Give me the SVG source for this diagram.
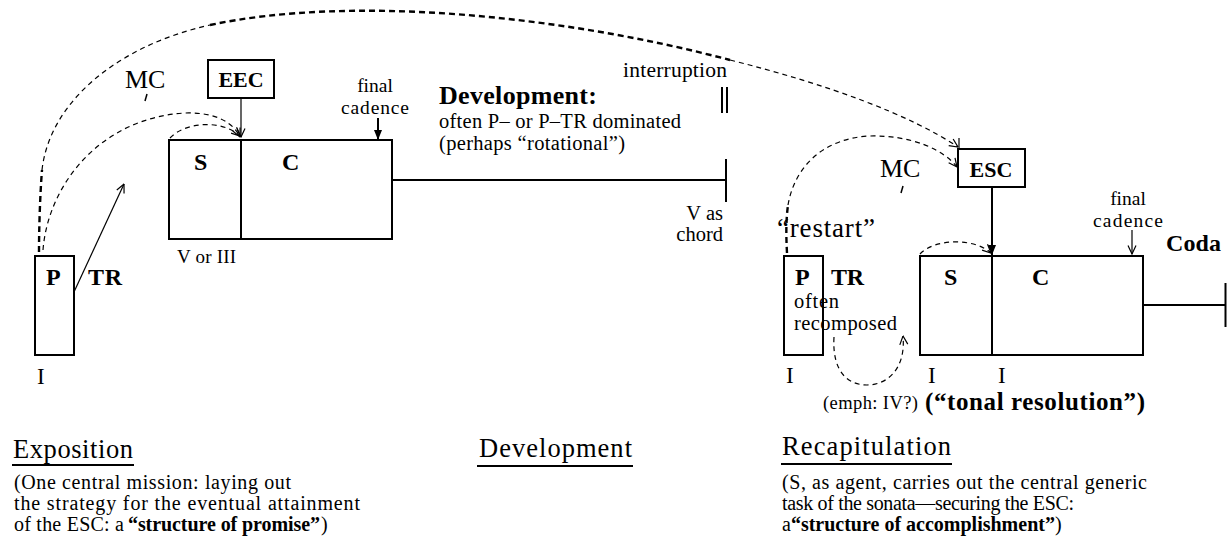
<svg xmlns="http://www.w3.org/2000/svg" width="1227" height="537" viewBox="0 0 1227 537">
<style>
.box{fill:none;stroke:#000;stroke-width:2}
.ln{fill:none;stroke:#000;stroke-width:2}
.thin{fill:none;stroke:#000;stroke-width:1.2}
.dash{fill:none;stroke:#000;stroke-width:1.2;stroke-dasharray:5 4}
.dashT{fill:none;stroke:#000;stroke-width:2.4;stroke-dasharray:6 4}
text{font-family:"Liberation Serif","Times New Roman",serif;fill:#000}
.b{font-weight:bold}
.body{font-size:20px}
.head{font-size:26.5px}
.lab{font-size:24px;font-weight:bold}
</style>
<defs>
<marker id="open" viewBox="0 0 10 10" refX="9.5" refY="5" markerWidth="10" markerHeight="10" markerUnits="userSpaceOnUse" orient="auto"><path d="M1,1 L9.5,5 L1,9" fill="none" stroke="#000" stroke-width="1.2"/></marker>
<marker id="solid" viewBox="0 0 10 10" refX="10" refY="5" markerWidth="10" markerHeight="10" markerUnits="userSpaceOnUse" orient="auto"><path d="M0,1 L10,5 L0,9 Z" fill="#000"/></marker>
</defs>
<rect width="1227" height="537" fill="#fff"/>

<g id="connectors">
  <path class="dashT" d="M39,252 C39,230 40,195 42,170"/>
  <path class="dash" d="M42,170 C50,100 120,45 210,25"/>
  <path class="dashT" d="M210,25 C350,-5 560,15 730,60"/>
  <path class="dash" d="M730,60 C830,85 910,115 958,147" marker-end="url(#open)"/>
  <line class="thin" x1="959" y1="138" x2="959" y2="149"/>
  <path class="dash" d="M43,250 C48,185 100,118 185,113 C218,112 234,124 240,137" marker-end="url(#open)"/>
  <path class="dash" d="M170,138 C185,122 222,119 240,136" marker-end="url(#open)"/>
  <line class="thin" x1="241" y1="98" x2="241" y2="137" marker-end="url(#open)"/>
  <line class="thin" x1="74" y1="292" x2="124" y2="184" marker-end="url(#open)"/>
  <line class="ln" x1="378" y1="118" x2="378" y2="140" marker-end="url(#solid)"/>
  <path class="dashT" d="M787,253 C786,235 786,220 788,205"/>
  <path class="dash" d="M788,205 C795,165 825,138 870,136 C912,135 944,150 957,167" marker-end="url(#open)"/>
  <line class="ln" x1="992" y1="187" x2="992" y2="255" marker-end="url(#solid)"/>
  <path class="dash" d="M920,254 C935,238 975,238 991,253" marker-end="url(#open)"/>
  <line class="thin" x1="1132" y1="230" x2="1132" y2="254" marker-end="url(#open)"/>
  <path class="dash" d="M834,337 C832,372 848,385 867,385 C888,385 906,368 903,336" marker-end="url(#open)"/>
</g>

<g id="exp-P">
  <rect class="box" x="35" y="256" width="39" height="99"/>
  <text class="lab" x="46" y="285">P</text>
  <text class="lab" x="88" y="285" textLength="34">TR</text>
  <text x="37" y="384" font-size="23">I</text>
</g>

<g id="MC-exp">
  <text x="125" y="88" font-size="26">MC</text>
  <line x1="147" y1="94" x2="145" y2="101" stroke="#000" stroke-width="1.5"/>
</g>

<g id="EEC">
  <rect class="box" x="208" y="60" width="66" height="38"/>
  <text class="b" x="241" y="87" font-size="22" text-anchor="middle">EEC</text>
</g>

<g id="exp-SC">
  <rect class="box" x="169" y="140" width="223" height="99"/>
  <line class="ln" x1="241" y1="140" x2="241" y2="239"/>
  <text class="lab" x="194" y="170">S</text>
  <text class="lab" x="282" y="170">C</text>
  <text x="177" y="263" font-size="19" textLength="59">V or III</text>
  <text x="375" y="92" font-size="19.5" text-anchor="middle">final</text>
  <text x="375" y="114" font-size="19.5" text-anchor="middle" textLength="68">cadence</text>
</g>

<g id="development-line">
  <line class="ln" x1="392" y1="180" x2="727" y2="180"/>
  <line class="ln" x1="726" y1="159" x2="726" y2="202"/>
  <line class="ln" x1="722" y1="87" x2="722" y2="113"/>
  <line class="ln" x1="727" y1="87" x2="727" y2="113"/>
  <text x="727" y="77" font-size="21.5" text-anchor="end" textLength="104">interruption</text>
  <text x="723" y="220" font-size="20.5" text-anchor="end">V as</text>
  <text x="723" y="241" font-size="20.5" text-anchor="end">chord</text>
  <text class="b" x="439" y="104" font-size="26" textLength="158">Development:</text>
  <text x="439" y="128" font-size="20.5" textLength="242">often P– or P–TR dominated</text>
  <text x="439" y="150" font-size="20.5" textLength="186">(perhaps “rotational”)</text>
</g>

<g id="rec-P">
  <rect class="box" x="784" y="256" width="39" height="99"/>
  <text class="lab" x="795" y="285">P</text>
  <text class="lab" x="831" y="285" textLength="33">TR</text>
  <text x="794" y="308" font-size="20.5" textLength="45">often</text>
  <text x="794" y="330" font-size="20.5" textLength="103">recomposed</text>
  <text x="786" y="383" font-size="23">I</text>
  <text x="777" y="237" font-size="27" textLength="98">“restart”</text>
</g>

<g id="MC-rec">
  <text x="880" y="177" font-size="26">MC</text>
  <line x1="903" y1="186" x2="901" y2="193" stroke="#000" stroke-width="1.5"/>
</g>

<g id="ESC">
  <rect class="box" x="958" y="149" width="67" height="38"/>
  <text class="b" x="991" y="177" font-size="22" text-anchor="middle">ESC</text>
</g>

<g id="rec-SC">
  <rect class="box" x="920" y="256" width="223" height="99"/>
  <line class="ln" x1="992" y1="256" x2="992" y2="355"/>
  <text class="lab" x="944" y="285">S</text>
  <text class="lab" x="1032" y="285">C</text>
  <text x="928" y="383" font-size="23">I</text>
  <text x="998" y="383" font-size="23">I</text>
  <text x="1128" y="205" font-size="19.5" text-anchor="middle">final</text>
  <text x="1128" y="227" font-size="19.5" text-anchor="middle" textLength="70">cadence</text>
  <text x="823" y="409" font-size="18.5" textLength="95">(emph: IV?)</text>
  <text class="b" x="925" y="410" font-size="25" textLength="220">(“tonal resolution”)</text>
</g>

<g id="coda">
  <text class="b" x="1166" y="251" font-size="24" textLength="55">Coda</text>
  <line class="ln" x1="1143" y1="305" x2="1226" y2="305"/>
  <line class="ln" x1="1225.5" y1="283" x2="1225.5" y2="327"/>
</g>

<g id="exposition-caption">
  <text class="head" x="13" y="458" textLength="120">Exposition</text>
  <line class="ln" x1="12" y1="465" x2="134" y2="465"/>
  <text class="body" x="14" y="489" textLength="277">(One central mission: laying out</text>
  <text class="body" x="14" y="510" textLength="346">the strategy for the eventual attainment</text>
  <text class="body" x="14" y="531" textLength="110">of the ESC: a</text>
  <text class="body b" x="128" y="531" textLength="192">“structure of promise”</text>
  <text class="body" x="321" y="531">)</text>
</g>

<g id="development-caption">
  <text class="head" x="479" y="457" textLength="153">Development</text>
  <line class="ln" x1="477" y1="466" x2="633" y2="466"/>
</g>

<g id="recapitulation-caption">
  <text class="head" x="782" y="455" textLength="169">Recapitulation</text>
  <line class="ln" x1="781" y1="464" x2="952" y2="464"/>
  <text class="body" x="782" y="489" textLength="365">(S, as agent, carries out the central generic</text>
  <text class="body" x="782" y="510" textLength="292">task of the sonata—securing the ESC:</text>
  <text class="body" x="782" y="531">a<tspan class="b">“structure of accomplishment”</tspan>)</text>
</g>
</svg>
